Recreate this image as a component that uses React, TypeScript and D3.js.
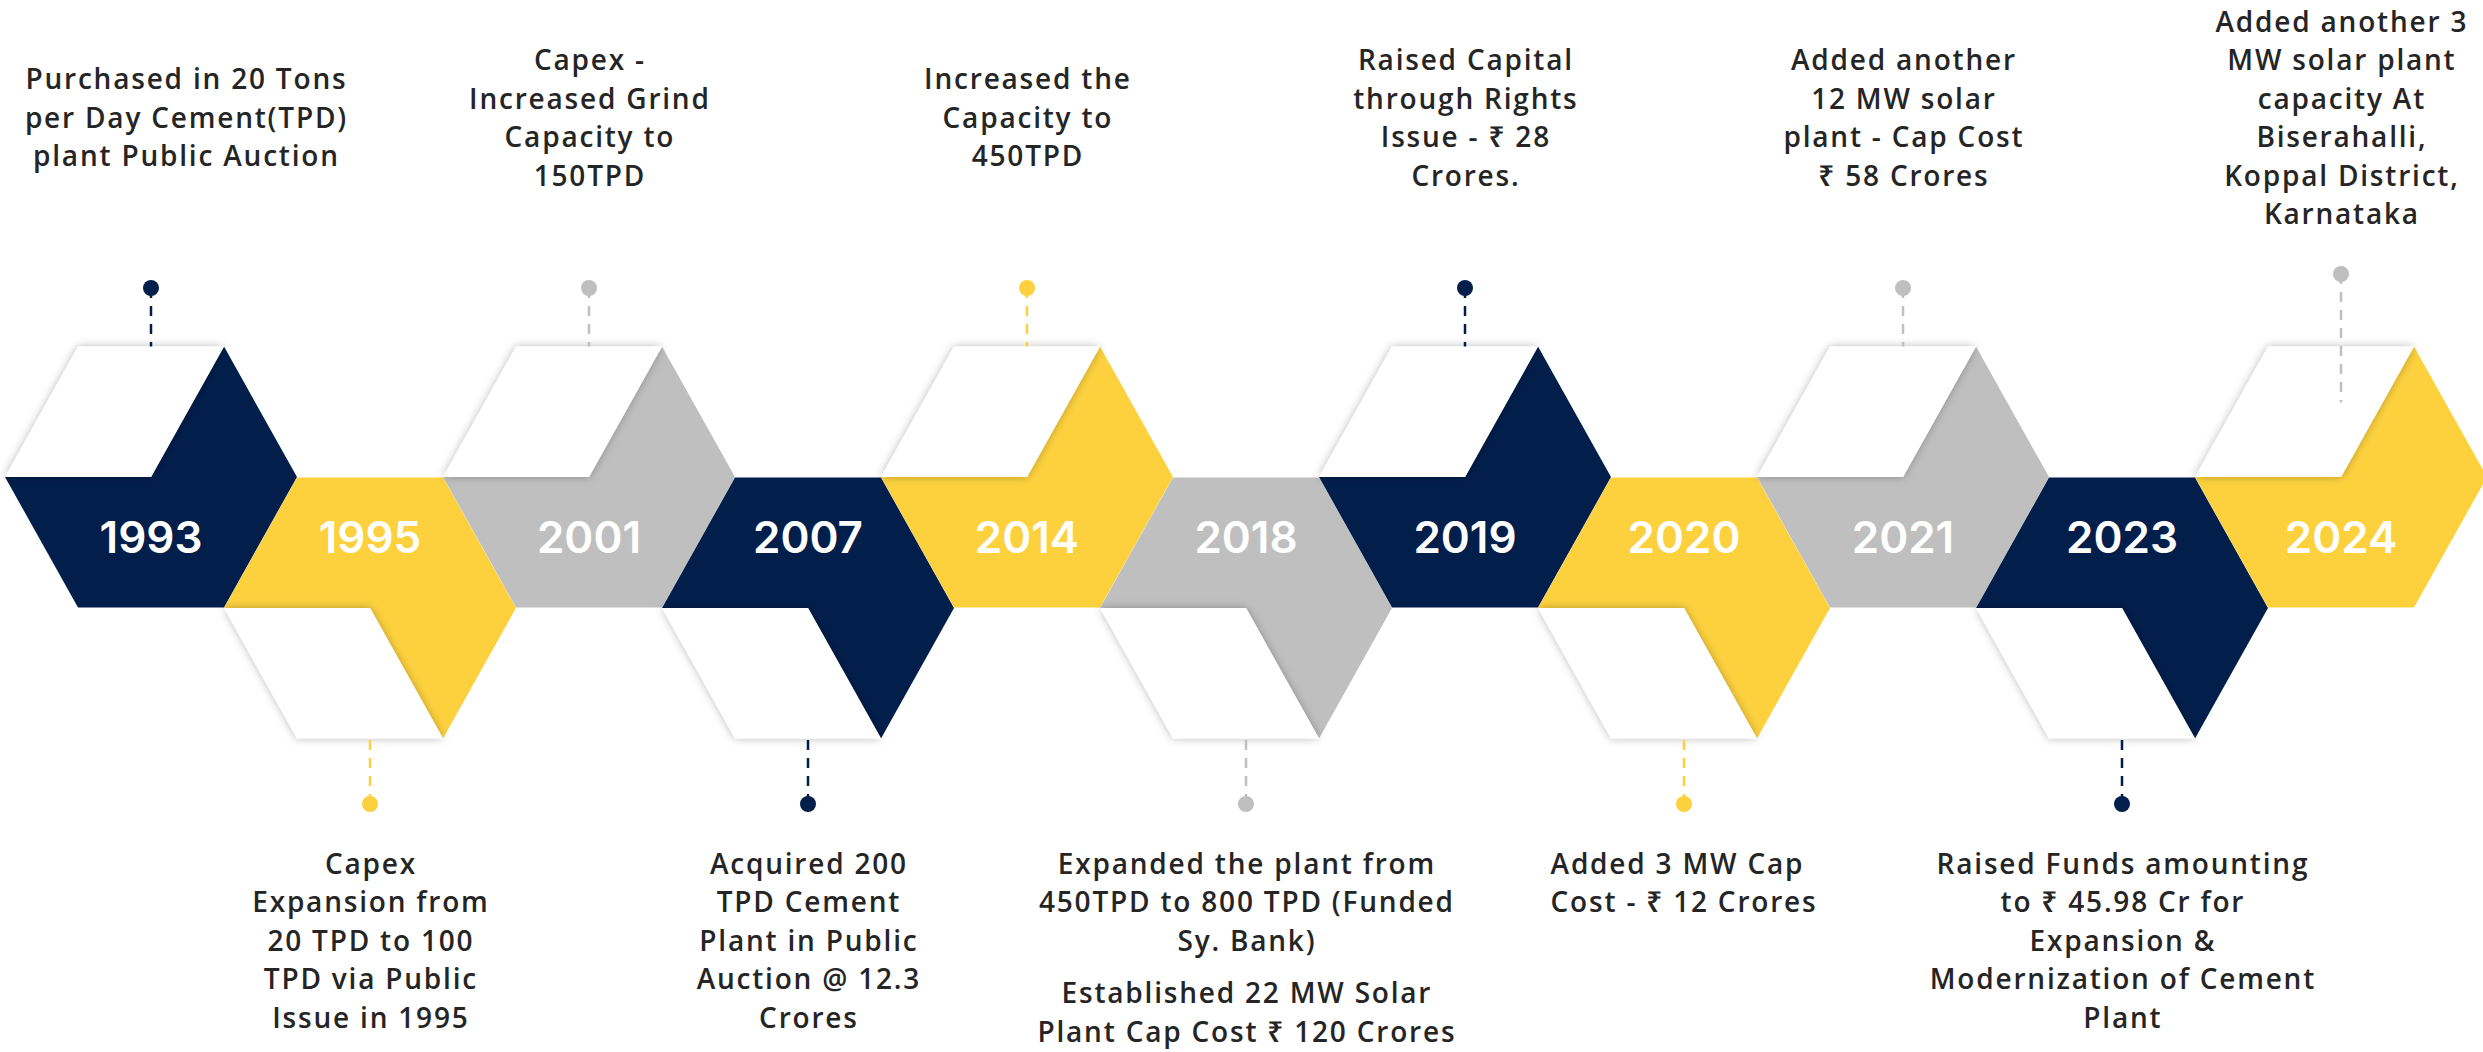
import React, { useMemo } from 'react';
import * as d3 from 'd3';

// milestones, left to right
const years = ['1993', '1995', '2001', '2007', '2014', '2018', '2019', '2020', '2021', '2023', '2024'];

const labels: string[][] = [
  ['Purchased in 20 Tons', 'per Day Cement(TPD)', 'plant Public Auction'],
  ['Capex', 'Expansion from', '20 TPD to 100', 'TPD via Public', 'Issue in 1995'],
  ['Capex -', 'Increased Grind', 'Capacity to', '150TPD'],
  ['Acquired 200', 'TPD Cement', 'Plant in Public', 'Auction @ 12.3', 'Crores'],
  ['Increased the', 'Capacity to', '450TPD'],
  ['Expanded the plant from', '450TPD to 800 TPD (Funded', 'Sy. Bank)', '', 'Established 22 MW Solar', 'Plant Cap Cost ₹ 120 Crores'],
  ['Raised Capital', 'through Rights', 'Issue - ₹ 28', 'Crores.'],
  ['Added 3 MW Cap', 'Cost - ₹ 12 Crores'],
  ['Added another', '12 MW solar', 'plant - Cap Cost', '₹ 58 Crores'],
  ['Raised Funds amounting', 'to ₹ 45.98 Cr for', 'Expansion &', 'Modernization of Cement', 'Plant'],
  ['Added another 3', 'MW solar plant', 'capacity  At', 'Biserahalli,', 'Koppal District,', 'Karnataka'],
];

// colour of each pin + dashed stem (the last one is grey, not yellow)
const pinColors = ['navy', 'yellow', 'grey', 'navy', 'yellow', 'grey', 'navy', 'yellow', 'grey', 'navy', 'grey'];

// labels whose lines are left aligned instead of centred
const leftAligned = ['2020'];

const palette = ['#021e4b', '#fdd13e', '#bfbfbf'];
const pinPalette: Record<string, string> = { navy: '#021e4b', yellow: '#fdd13e', grey: '#bfbfbf' };

const W = 2483;
const H = 1052;
const SLANT = 73;
const TOP = 146;
const HALF_H = 130.5;
const ROW_UP = 477;
const ROW_DOWN = 608;
const LABEL_SIZE = 28;
const LABEL_SPACING = 1.8;
const LINE_H = 38.5;
const LABEL_FONT = '"Open Sans", "Noto Sans", sans-serif';

const App = () => {
  const x = d3.scaleLinear().domain([0, years.length - 1]).range([5, 2195]);
  const color = d3.scaleOrdinal<string, string>().domain(years).range(palette);
  const line = d3.line();

  const measure = useMemo(() => {
    const ctx = document.createElement('canvas').getContext('2d');
    return (s: string) => {
      const extra = s.length * LABEL_SPACING;
      if (!ctx) return s.length * LABEL_SIZE * 0.58 + extra;
      ctx.font = `600 ${LABEL_SIZE}px "Open Sans"`;
      return ctx.measureText(s).width + extra;
    };
  }, []);

  const items = years.map((year, i) => {
    const up = i % 2 === 0;
    const L = x(i);
    const cy = up ? ROW_UP : ROW_DOWN;
    const t = cy - HALF_H;
    const b = cy + HALF_H;
    const mid = L + SLANT + TOP / 2;
    const colored: [number, number][] = up
      ? [[L, cy], [L + TOP, cy], [L + SLANT + TOP, t], [L + 2 * SLANT + TOP, cy], [L + SLANT + TOP, b], [L + SLANT, b]]
      : [[L, cy], [L + SLANT, t], [L + SLANT + TOP, t], [L + 2 * SLANT + TOP, cy], [L + SLANT + TOP, b], [L + TOP, cy]];
    const white: [number, number][] = up
      ? [[L, cy], [L + SLANT, t], [L + SLANT + TOP, t], [L + TOP, cy]]
      : [[L, cy], [L + TOP, cy], [L + SLANT + TOP, b], [L + SLANT, b]];
    const last = i === years.length - 1;
    const dotY = up ? (last ? 274 : 288) : 804;
    const lineEnd = up ? (last ? t + 56 : t) : b;
    return { year, i, up, mid, colored, white, dotY, lineEnd, pin: pinPalette[pinColors[i]] };
  });

  return (
    <svg width={W} height={H} style={{ position: 'absolute', left: 0, top: 0, background: '#fff' }}>
      <defs>
        <filter id="soft" x="-20%" y="-20%" width="140%" height="140%">
          <feDropShadow dx="0" dy="0" stdDeviation="4" floodColor="#000" floodOpacity="0.28" />
        </filter>
      </defs>

      {items.map(d => (
        <path key={'c' + d.year} d={line(d.colored) + 'Z'} fill={color(d.year)} />
      ))}
      {items.map(d => (
        <path key={'w' + d.year} d={line(d.white) + 'Z'} fill="#fff" filter="url(#soft)" />
      ))}

      {items.map(d => (
        <text key={'y' + d.year} x={d.mid} y={538} dy="0.35em" textAnchor="middle"
          fill="#fff" fontFamily="Inter, sans-serif" fontWeight={600} fontSize={44}>
          {d.year}
        </text>
      ))}

      {items.map(d => (
        <g key={'k' + d.year}>
          <line x1={d.mid} x2={d.mid} y1={d.dotY} y2={d.lineEnd}
            stroke={d.pin} strokeWidth={2.5} strokeDasharray="10 8" />
          <circle cx={d.mid} cy={d.dotY} r={8} fill={d.pin} />
        </g>
      ))}

      {items.map(d => {
        const rows = labels[d.i];
        const widths = rows.map(measure);
        const maxW = d3.max(widths) || 0;
        const cx = Math.max(24 + maxW / 2, Math.min(2470 - maxW / 2, d.mid));
        const steps = rows.map(r => (r === '' ? LINE_H * 0.36 : LINE_H));
        const offsets: number[] = [];
        let acc = 0;
        rows.forEach((r, k) => {
          offsets.push(acc);
          acc += k < rows.length - 1 ? steps[k] : 0;
        });
        const top = d.up ? 118 - acc / 2 : 864;
        const left = leftAligned.includes(d.year);
        return (
          <text key={'l' + d.year} fill="#252525" fontFamily={LABEL_FONT} fontWeight={600}
            fontSize={LABEL_SIZE} letterSpacing={LABEL_SPACING} textAnchor={left ? 'start' : 'middle'}>
            {rows.map((r, k) => r === '' ? null : (
              <tspan key={k} x={left ? cx - maxW / 2 : cx + LABEL_SPACING / 2} y={top + offsets[k]} dy="0.35em">{r}</tspan>
            ))}
          </text>
        );
      })}
    </svg>
  );
};

export default App;
